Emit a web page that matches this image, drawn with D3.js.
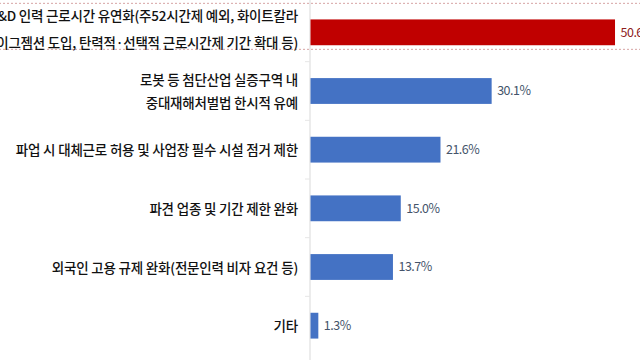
<!DOCTYPE html>
<html>
<head>
<meta charset="utf-8">
<script src="https://cdn.jsdelivr.net/npm/d3@7"></script>
<style>
  body { margin: 0; background: #fff; overflow: hidden; }
  svg { display: block; font-family: "Noto Sans CJK KR", "Noto Sans", sans-serif; }
</style>
</head>
<body>
<div id="chart"></div>
<script>
// Data
var categories = [
    "R&D 인력 근로시간 유연화(주52시간제 예외, 화이트칼라\n이그젬션 도입, 탄력적·선택적 근로시간제 기간 확대 등)",
    "로봇 등 첨단산업 실증구역 내\n중대재해처벌법 한시적 유예",
    "파업 시 대체근로 허용 및 사업장 필수 시설 점거 제한",
    "파견 업종 및 기간 제한 완화",
    "외국인 고용 규제 완화(전문인력 비자 요건 등)",
    "기타"
];
var values = [50.6, 30.1, 21.6, 15.0, 13.7, 1.3];
var highlight = [true, false, false, false, false, false];

var svgWidth = 640;
var svgHeight = 360;

var svg = d3.select("#chart")
    .append("svg")
    .attr("width", svgWidth)
    .attr("height", svgHeight);

var x = d3.scaleLinear()
    .domain([0, 55])
    .range([310, 641]);

var y = d3.scaleBand()
    .domain(categories)
    .range([3, 355])
    .paddingInner(0.56)
    .paddingOuter(0.28);

var data = categories.map(function(c, i) {
    return { name: c, value: values[i], hi: highlight[i] };
});

// dashed highlight box around the first row
var step = y.step();
svg.append("rect")
    .attr("x", -5)
    .attr("y", y(categories[0]) + y.bandwidth() / 2 - 29)
    .attr("width", svgWidth + 10)
    .attr("height", 46)
    .attr("fill", "none")
    .attr("stroke", "#d6a3a3")
    .attr("stroke-width", 1)
    .attr("stroke-dasharray", "2,2");

// vertical axis line with faint ticks between categories
var axis = d3.axisLeft(y).tickSize(0).tickFormat("");
svg.append("g")
    .attr("transform", "translate(" + x(0) + ",0)")
    .call(axis)
    .call(function(g) {
        g.select(".domain").attr("stroke", "#d9d9d9").attr("d", "M0,0V" + svgHeight);
    });

svg.append("g")
    .selectAll("line")
    .data(categories.slice(1))
    .join("line")
    .attr("x1", x(0) - 5)
    .attr("x2", x(0))
    .attr("y1", function(d) { return y(d) - (step - y.bandwidth()) / 2; })
    .attr("y2", function(d) { return y(d) - (step - y.bandwidth()) / 2; })
    .attr("stroke", "#e6e6e6");

// bars
svg.append("g")
    .selectAll("rect")
    .data(data)
    .join("rect")
    .attr("x", x(0) + 0.5)
    .attr("y", function(d) { return y(d.name); })
    .attr("width", function(d) { return x(d.value) - x(0); })
    .attr("height", y.bandwidth())
    .attr("fill", function(d) { return d.hi ? "#c00000" : "#4472c4"; });

// value labels
svg.append("g")
    .selectAll("text")
    .data(data)
    .join("text")
    .attr("x", function(d) { return x(d.value) + 6; })
    .attr("y", function(d) { return y(d.name) + y.bandwidth() / 2; })
    .attr("dy", "0.35em")
    .attr("font-size", 12.5)
    .attr("letter-spacing", -0.5)
    .attr("fill", function(d) { return d.hi ? "#8e2020" : "#44546a"; })
    .text(function(d) { return d.value.toFixed(1) + "%"; });

// category labels, right aligned, may be multi-line
var labels = svg.append("g")
    .selectAll("text")
    .data(data)
    .join("text")
    .attr("x", 298)
    .attr("text-anchor", "end")
    .attr("font-size", 13.5)
    .attr("font-weight", 500)
    .attr("letter-spacing", -0.2)
    .attr("fill", "#111");

labels.each(function(d, i) {
    var lines = d.name.split("\n");
    var lh = i === 0 ? 27 : 22.5;
    var cy = y(d.name) + y.bandwidth() / 2 + (i === 0 ? -3 : 1);
    var t = d3.select(this);
    lines.forEach(function(line, k) {
        t.append("tspan")
            .attr("x", 298)
            .attr("y", cy + (k - (lines.length - 1) / 2) * lh)
            .attr("dy", "0.35em")
            .text(line);
    });
});
</script>
</body>
</html>
